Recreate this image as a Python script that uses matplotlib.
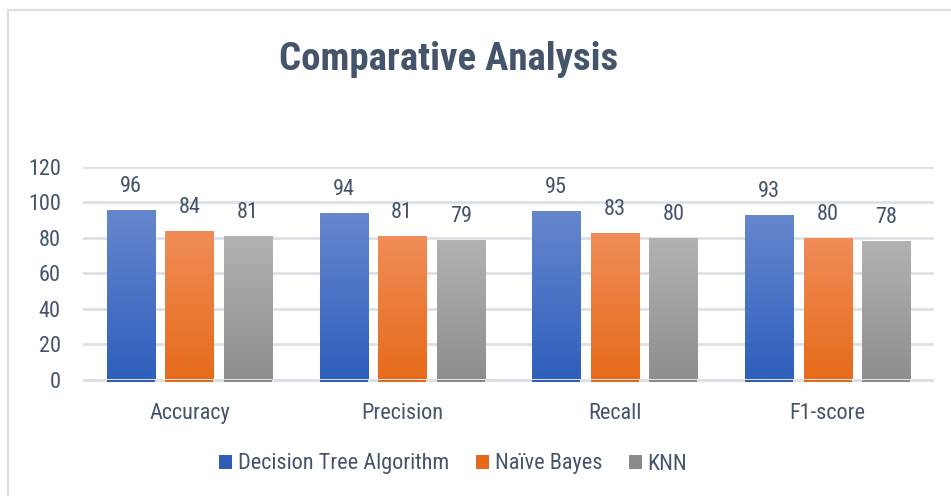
import numpy as np
import matplotlib
matplotlib.use("Agg")
import matplotlib.pyplot as plt
from matplotlib.patches import Rectangle, Patch
from matplotlib.colors import LinearSegmentedColormap

plt.rcParams['font.family'] = ['Roboto Condensed', 'DejaVu Sans']

#%% data
categories = ['Accuracy', 'Precision', 'Recall', 'F1-score']
series_names = ['Decision Tree Algorithm', 'Naïve Bayes', 'KNN']
dt_vals = [96, 94, 95, 93]
nb_vals = [84, 81, 83, 80]
knn_vals = [81, 79, 80, 78]
yticks = [0, 20, 40, 60, 80, 100, 120]

# gradient top / bottom colours per series
grads = [('#6687CD', '#2E5FBD'), ('#F08D58', '#E66A19'), ('#B2B2B2', '#8E8E8E')]
base_cols = ['#2F5DB5', '#E4691B', '#8A8A8A']
txt_col = '#44546A'
grid_col = '#DCE1E7'

W, H = 951, 496
fig = plt.figure(figsize=(W / 100, H / 100), dpi=100)

# chart frame
fig.patches.append(Rectangle((8 / W, -0.1), 1.2, 1.1 - 10 / H, transform=fig.transFigure,
                             fill=False, edgecolor='#D9DEE5', linewidth=1.5))

ymin = -1.2
px_per_unit = (379.7 - 167) / 120
bottom_px = 379.7 + (-ymin) * px_per_unit
ax = fig.add_axes([83 / W, 1 - bottom_px / H, (934 - 83) / W, (bottom_px - 167) / H])

for s in ax.spines.values():
    s.set_visible(False)
ax.set_yticks(yticks)
for y in yticks[1:]:
    ax.axhline(y, color=grid_col, lw=2, zorder=0)
ax.axhline(0, color=grid_col, lw=2.2, zorder=5)
ax.tick_params(length=0, labelsize=16, labelcolor=txt_col)
ax.tick_params(axis='y', pad=16)
ax.tick_params(axis='x', pad=15)
ax.set_xticks(range(len(categories)))
ax.set_xticklabels(categories)

x = np.arange(len(categories))
bw = 0.226
step = 0.275
all_vals = [dt_vals, nb_vals, knn_vals]
for i, vals in enumerate(all_vals):
    cmap = LinearSegmentedColormap.from_list('g%d' % i, [grads[i][1], grads[i][0]])
    xs = x + (i - 1) * step
    bars = ax.bar(xs, np.array(vals) - ymin, bw, bottom=ymin, color='none',
                  edgecolor='none', zorder=2)
    for b, v, xc in zip(bars, vals, xs):
        grad = np.linspace(0, 1, 256).reshape(-1, 1)
        im = ax.imshow(grad, cmap=cmap, origin='lower', aspect='auto',
                       extent=[xc - bw / 2, xc + bw / 2, 0, v], zorder=2)
        im.set_clip_path(b)
        ax.bar(xc, -ymin, bw, bottom=ymin, color=base_cols[i], zorder=6)
        ax.annotate(str(v), (xc, v), xytext=(0, 13), textcoords='offset pixels',
                    ha='center', va='bottom', fontsize=16, color=txt_col)

ax.set_xlim(-0.5, 3.5)
ax.set_ylim(ymin, 120)

fig.text(449 / W, 1 - 70 / H, 'Comparative Analysis', ha='center', va='baseline',
         fontsize=28, fontweight='bold', color=txt_col)

handles = [Patch(facecolor=base_cols[i], edgecolor='none') for i in range(3)]
fig.legend(handles, series_names, loc='center', bbox_to_anchor=(453 / W, 1 - 464 / H),
           ncol=3, frameon=False, fontsize=16, labelcolor=txt_col,
           handlelength=0.6, handleheight=0.6, handletextpad=0.25, columnspacing=1.2)

fig.savefig('out.png', dpi=100)
